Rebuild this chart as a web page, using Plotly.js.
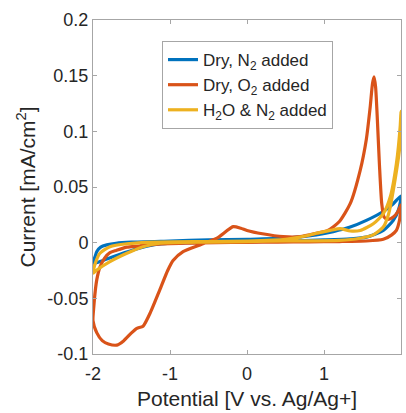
<!DOCTYPE html>
<html>
<head>
<meta charset="utf-8">
<script src="https://cdn.plot.ly/plotly-3.0.1.min.js"></script>
<style>html,body{margin:0;padding:0;background:#fff;}#chart{width:406px;height:413px;}</style>
</head>
<body>
<div id="chart"></div>
<script>
// Dry, N2 added (closed CV loop)
const n2DryX = [-2.0,-1.97,-1.95,-1.9,-1.82,-1.7,-1.5,-1.0,-0.5,0.0,0.5,0.9,1.12,1.34,1.55,1.77,1.9,2.0,
                1.97,1.9,1.77,1.55,1.34,1.0,0.5,0.0,-0.5,-1.0,-1.22,-1.48,-1.74,-1.91,-2.0];
const n2DryY = [-0.0185,-0.012,-0.008,-0.004,-0.002,-0.0005,0.0005,0.0015,0.0025,0.003,0.004,0.007,0.0099,0.014,0.020,0.028,0.035,0.042,
                0.030,0.020,0.011,0.005,0.0035,0.0025,0.0015,0.001,0.0005,-0.0005,-0.002,-0.0066,-0.0126,-0.017,-0.0185];

// Dry, O2 added
const o2DryX = [-2.0,-1.95,-1.88,-1.8,-1.69,-1.6,-1.5,-1.43,-1.35,-1.25,-1.13,-1.03,-0.96,-0.83,-0.61,-0.39,-0.18,-0.08,0.0,0.2,0.47,0.69,0.9,1.05,1.2,1.34,1.47,1.55,1.6,1.63,1.65,1.67,1.69,1.72,1.75,1.78,1.83,1.9,1.96,2.0,
                1.98,1.94,1.88,1.77,1.55,1.2,0.8,0.4,0.0,-0.4,-0.8,-1.2,-1.4,-1.56,-1.7,-1.78,-1.85,-1.91,-1.95,-1.97,-1.99,-2.0];
const o2DryY = [-0.070,-0.081,-0.088,-0.091,-0.092,-0.088,-0.081,-0.077,-0.075,-0.062,-0.042,-0.025,-0.016,-0.008,-0.002,0.004,0.0144,0.013,0.011,0.008,0.0054,0.0054,0.0084,0.011,0.019,0.035,0.065,0.093,0.122,0.143,0.149,0.140,0.115,0.070,0.035,0.023,0.021,0.023,0.028,0.034,
                0.020,0.011,0.007,0.003,0.0015,0.001,0.0008,0.0005,0.0003,0.0,-0.0005,-0.0015,-0.003,-0.004,-0.007,-0.009,-0.014,-0.022,-0.033,-0.043,-0.058,-0.070];

// H2O & N2 added
const h2oN2X = [-2.0,-1.97,-1.91,-1.78,-1.56,-1.2,-0.5,0.0,0.5,0.69,0.9,1.08,1.21,1.34,1.47,1.64,1.77,1.86,1.94,1.99,2.0,
                1.99,1.9,1.84,1.77,1.64,1.47,1.2,0.5,0.0,-0.5,-1.13,-1.35,-1.56,-1.78,-1.95,-2.0];
const h2oN2Y = [-0.0275,-0.0185,-0.0095,-0.0036,-0.001,0.0005,0.001,0.0015,0.003,0.005,0.0084,0.011,0.0126,0.0105,0.011,0.017,0.026,0.041,0.071,0.105,0.118,
                0.090,0.047,0.026,0.014,0.007,0.004,0.002,0.0015,0.001,0.0005,-0.0005,-0.0036,-0.0095,-0.017,-0.0245,-0.0275];

const seriesNames = ['Dry, N<sub>2</sub> added','Dry, O<sub>2</sub> added','H<sub>2</sub>O & N<sub>2</sub> added'];
const xTicks = [-2,-1,0,1,2];
const yTicks = [-0.1,-0.05,0,0.05,0.1,0.15,0.2];
const yTickText = ['-0.1','-0.05','0','0.05','0.1','0.15','0.2'];

const colors = ['#0072BD','#D95319','#EDB120'];
const xs = [n2DryX,o2DryX,h2oN2X];
const ys = [n2DryY,o2DryY,h2oN2Y];

const traces = xs.map((x,i)=>({
  x: x, y: ys[i], type:'scatter', mode:'lines', name: seriesNames[i],
  line:{color:colors[i], width:3.2, shape:'spline', smoothing:0.6}
}));

const axisCommon = {
  showline:true, linecolor:'#a6a6a6', linewidth:1, mirror:'ticks',
  ticks:'inside', ticklen:4, tickcolor:'#a6a6a6', showgrid:false, zeroline:false,
  tickfont:{family:'Liberation Sans, Arial, sans-serif', size:18, color:'#262626'}
};

const layout = {
  width:406, height:413,
  margin:{l:93, r:5, t:20, b:59},
  paper_bgcolor:'#fff', plot_bgcolor:'#fff',
  showlegend:true,
  font:{family:'Liberation Sans, Arial, sans-serif', size:17, color:'#262626'},
  xaxis: Object.assign({}, axisCommon, {
    range:[-2,2], tickvals:xTicks, ticktext:xTicks.map(String),
    ticklabelstandoff:3,
    title:{text:'Potential [V vs. Ag/Ag+]', font:{size:21, color:'#262626'}, standoff:8}
  }),
  yaxis: Object.assign({}, axisCommon, {
    range:[-0.1,0.2], tickvals:yTicks, ticktext:yTickText,
    title:{text:'Current [mA/cm<sup>2</sup>]', font:{size:21, color:'#262626'}, standoff:6}
  }),
  legend:{
    x:0.224, y:0.937, xanchor:'left', yanchor:'top',
    bgcolor:'#fff', bordercolor:'#a6a6a6', borderwidth:1,
    font:{size:17, color:'#262626'},
    itemwidth:30, traceorder:'normal'
  }
};

Plotly.newPlot('chart', traces, layout, {displayModeBar:false, staticPlot:true});
</script>
</body>
</html>
